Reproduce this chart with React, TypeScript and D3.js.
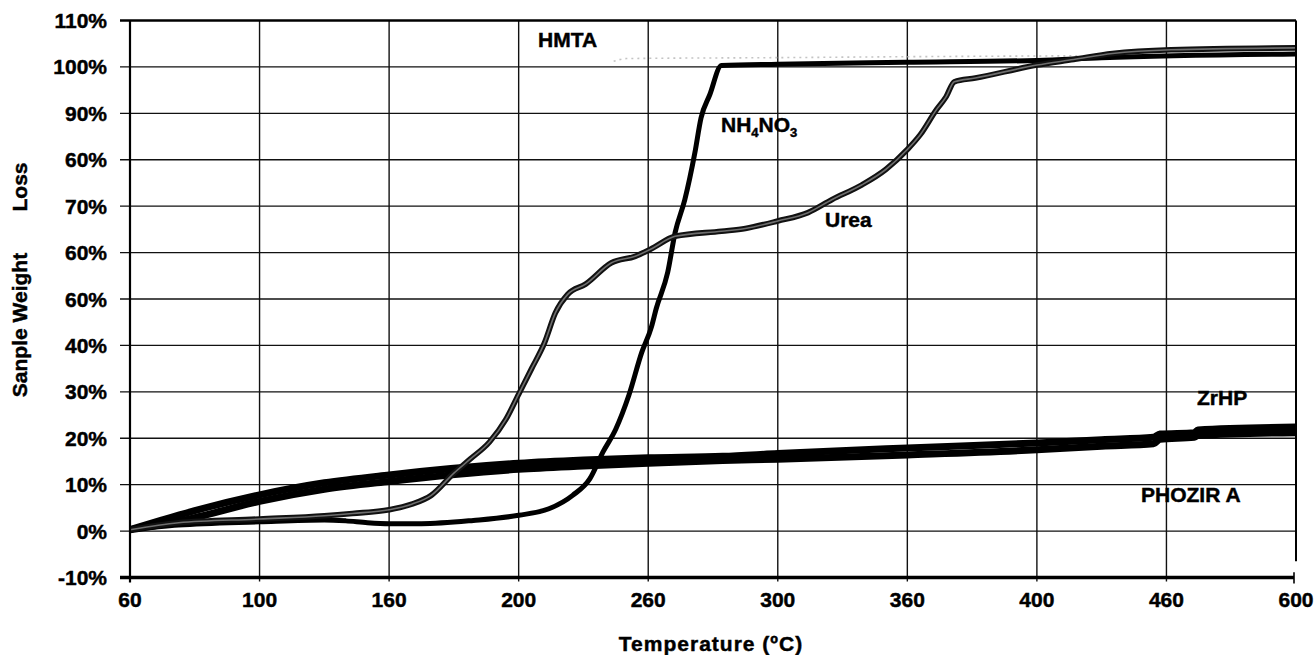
import React from "react";
import * as d3 from "d3";

// ---- data ----
const xTickValues = [60, 100, 160, 200, 260, 300, 360, 400, 460, 600];
const xTickLabels = ["60", "100", "160", "200", "260", "300", "360", "400", "460", "600"];
const yTickValues = [110, 100, 90, 80, 70, 60, 50, 40, 30, 20, 10, 0, -10];
const yTickLabels = ["110%", "100%", "90%", "60%", "70%", "60%", "60%", "40%", "30%", "20%", "10%", "0%", "-10%"];

const zrhpData: [number, number][] = [
  [60, 0.3], [70, 2.4], [80, 4.4], [100, 7.8], [130, 10.4], [160, 12.1], [200, 14.6], [230, 15.3],
  [260, 15.8], [283, 16.1], [300, 16.7], [360, 17.9], [400, 19.0], [430, 19.7], [454, 20.2],
  [457, 20.9], [490, 21.2], [494, 21.8], [600, 22.4],
];
const phozirData: [number, number][] = [
  [60, 0.3], [70, 1.4], [80, 2.9], [100, 6.4], [130, 9.0], [160, 10.7], [200, 13.3], [230, 14.0],
  [260, 14.6], [283, 15.2], [300, 15.5], [360, 16.4], [400, 17.5], [430, 18.3], [454, 18.8],
  [457, 19.8], [490, 20.2], [494, 20.6], [600, 21.2],
];
const nh4no3Data: [number, number][] = [
  [60, 0.3], [75, 1.3], [100, 2.0], [130, 2.4], [140, 2.2], [150, 1.8], [160, 1.6], [170, 1.6],
  [186, 2.3], [200, 3.4], [214, 4.8], [225, 7.7], [233, 11.3], [239, 17], [245, 22], [251, 29.2],
  [257, 38.5], [261, 44], [262.5, 48], [266, 55.7], [268.3, 64.3], [271.3, 71.4], [274.4, 81.5],
  [276.3, 89], [279, 94], [282.6, 100.3], [300, 100.6], [359, 101.0], [400, 101.4], [430, 102.0],
  [600, 102.8],
];
const ureaData: [number, number][] = [
  [60, 0.3], [75, 1.8], [100, 2.6], [130, 3.3], [143, 3.8], [160, 4.6], [167, 5.8], [173, 7.7],
  [180, 12.5], [185, 15.5], [191, 19.2], [196, 24], [200, 29.5], [206, 35], [212, 40.6], [217, 47],
  [222.7, 51], [231, 53.2], [243, 57.8], [254, 59.2], [260.7, 60.7], [268.3, 63.5], [282.6, 64.6],
  [290, 65.2], [300, 66.8], [314, 68.6], [325, 71.4], [339, 74.6], [350, 77.9], [360, 82.2],
  [364, 85.4], [369, 90.8], [372, 93.6], [374.5, 96.8], [381, 97.6], [400, 100.4], [417, 101.6],
  [435, 102.9], [465, 103.7], [600, 104.1],
];
const hmtaData: [number, number][] = [
  [244, 101.2], [250, 101.8], [300, 102.0], [360, 102.2], [420, 102.4],
];

export default function App() {
  const W = 1315;
  const H = 655;
  const left = 130;
  const right = 1296;
  const top = 20.5;
  const bottom = 577.5;

  const step = (right - left) / (xTickValues.length - 1);
  const x = d3
    .scaleLinear()
    .domain(xTickValues)
    .range(xTickValues.map((_, i) => left + i * step));
  const y = d3.scaleLinear().domain([-10, 110]).range([bottom, top]);

  const line = d3
    .line<[number, number]>()
    .x((d) => x(d[0]))
    .y((d) => y(d[1]))
    .curve(d3.curveMonotoneX);

  const font = "'Liberation Sans', Arial, sans-serif";
  const txt = { fill: "#000", stroke: "#000", strokeWidth: 0.45 } as const;

  return (
    <svg
      width={W}
      height={H}
      style={{ position: "absolute", left: 0, top: 0, background: "#fff" }}
      fontFamily={font}
      fontWeight="bold"
    >
      {/* horizontal gridlines */}
      {yTickValues.map((v, i) =>
        v === -10 || v === 110 ? null : (
          <line key={"h" + i} x1={left - 10} x2={right} y1={y(v)} y2={y(v)} stroke="#111" strokeWidth={1.4} />
        )
      )}
      {/* vertical gridlines */}
      {xTickValues.map((v, i) =>
        i === 0 || i === xTickValues.length - 1 ? null : (
          <line key={"v" + i} x1={x(v)} x2={x(v)} y1={top} y2={bottom + 4} stroke="#111" strokeWidth={1.4} />
        )
      )}

      {/* HMTA faint trace */}
      <path d={line(hmtaData) || ""} fill="none" stroke="#c4c4c4" strokeWidth={1.6} strokeDasharray="2,4" />

      {/* ZrHP / PHOZIR A band */}
      <path d={line(phozirData) || ""} fill="none" stroke="#000" strokeWidth={7} />
      <path d={line(zrhpData) || ""} fill="none" stroke="#000" strokeWidth={7} />

      {/* NH4NO3 */}
      <path d={line(nh4no3Data) || ""} fill="none" stroke="#000" strokeWidth={5} strokeLinejoin="round" />

      {/* Urea */}
      <path d={line(ureaData) || ""} fill="none" stroke="#111" strokeWidth={5.6} strokeLinejoin="round" />
      <path d={line(ureaData) || ""} fill="none" stroke="#6e6e6e" strokeWidth={1.6} strokeLinejoin="round" />

      {/* frame */}
      <line x1={left - 10} x2={right} y1={top} y2={top} stroke="#000" strokeWidth={2.6} />
      <line x1={left} x2={left} y1={top} y2={bottom + 5} stroke="#000" strokeWidth={2.2} />
      <line x1={right} x2={right} y1={top} y2={y(-6.5)} stroke="#000" strokeWidth={2} />
      <line x1={right - 2} x2={right - 2} y1={y(-9.3) - 2} y2={bottom + 6} stroke="#000" strokeWidth={1.6} />
      <line x1={left - 10} x2={right - 2} y1={bottom} y2={bottom} stroke="#000" strokeWidth={3.4} />

      {/* y tick labels */}
      {yTickValues.map((v, i) => (
        <text key={"yl" + i} x={107} y={y(v)} dy="0.36em" textAnchor="end" fontSize={21} {...txt}>
          {yTickLabels[i]}
        </text>
      ))}
      {/* x tick labels */}
      {xTickValues.map((v, i) => (
        <text key={"xl" + i} x={x(v)} y={607} textAnchor="middle" fontSize={21} {...txt}>
          {xTickLabels[i]}
        </text>
      ))}

      {/* axis titles */}
      <text x={711} y={651} textAnchor="middle" fontSize={21} letterSpacing={1} {...txt}>
        Temperature (ºC)
      </text>
      <text transform="translate(27,325) rotate(-90)" textAnchor="middle" fontSize={21} {...txt}>
        Sanple Weight
      </text>
      <text transform="translate(27,187) rotate(-90)" textAnchor="middle" fontSize={21} {...txt}>
        Loss
      </text>

      {/* series labels */}
      <text x={538} y={46.5} fontSize={21} {...txt}>HMTA</text>
      <text x={721} y={131.5} fontSize={21} {...txt}>
        NH<tspan fontSize={13} dy={5}>4</tspan>
        <tspan dy={-5}>NO</tspan>
        <tspan fontSize={13} dy={5}>3</tspan>
      </text>
      <text x={825} y={226.5} fontSize={21} {...txt}>Urea</text>
      <text x={1197} y={405} fontSize={21} {...txt}>ZrHP</text>
      <text x={1141} y={501.5} fontSize={21} {...txt}>PHOZIR A</text>
    </svg>
  );
}
